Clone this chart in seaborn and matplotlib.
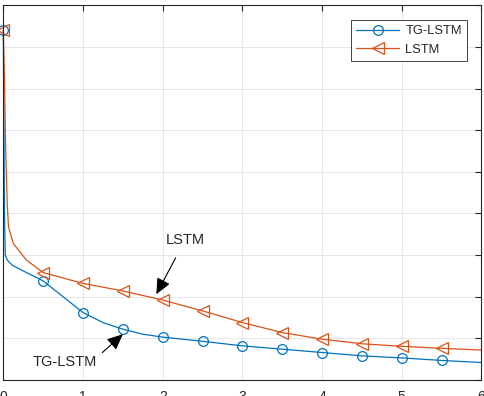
import matplotlib
matplotlib.use("Agg")
import matplotlib.pyplot as plt
import seaborn as sns

# values (y axis runs 0..9, labels cropped away)
tg_x = [0, 0.015, 0.025, 0.05, 0.11, 0.25, 0.5, 0.75, 1.0, 1.25, 1.5, 1.75,
        2.0, 2.5, 3.0, 3.5, 4.0, 4.5, 5.0, 5.5, 6.0]
tg_y = [8.4, 4.0, 3.0, 2.88, 2.76, 2.62, 2.38, 2.0, 1.62, 1.38, 1.22, 1.10,
        1.03, 0.93, 0.82, 0.74, 0.66, 0.58, 0.53, 0.47, 0.42]

lstm_x = [0, 0.015, 0.03, 0.05, 0.065, 0.125, 0.29, 0.5, 1.0, 1.5, 2.0, 2.5,
          3.0, 3.5, 4.0, 4.5, 5.0, 5.5, 6.0]
lstm_y = [8.4, 7.2, 5.5, 4.2, 3.68, 3.28, 2.88, 2.58, 2.32, 2.14, 1.92, 1.66,
          1.38, 1.14, 0.98, 0.87, 0.81, 0.76, 0.72]

x_ticks = [0, 1, 2, 3, 4, 5, 6]
y_ticks = [0, 1, 2, 3, 4, 5, 6, 7, 8, 9]

blue = "#0072BD"
orange = "#D95319"

sns.set_theme(style="whitegrid")
plt.rcParams["font.family"] = ["Liberation Sans", "DejaVu Sans"]

fig = plt.figure(figsize=(4.85, 3.96), dpi=100)
ax = fig.add_axes([3.3 / 485, 16 / 396, 478.2 / 485, 374.7 / 396])


def marks(xs):
    # a marker every 0.5 along x, none on the last point
    return [i for i, v in enumerate(xs) if v % 0.5 == 0 and v < 6]


sns.lineplot(x=tg_x, y=tg_y, ax=ax, sort=False, color=blue, lw=0.9,
             marker="o", markevery=marks(tg_x), markersize=7,
             markerfacecolor="none", markeredgecolor=blue, markeredgewidth=0.9,
             label="TG-LSTM", clip_on=False)
sns.lineplot(x=lstm_x, y=lstm_y, ax=ax, sort=False, color=orange, lw=0.9,
             marker="<", markevery=marks(lstm_x), markersize=8,
             markerfacecolor="none", markeredgecolor=orange, markeredgewidth=0.9,
             label="LSTM", clip_on=False)

ax.set_xlim(0, 6)
ax.set_ylim(0, 9)
ax.set_xticks(x_ticks)
ax.set_yticks(y_ticks)
ax.tick_params(direction="in", length=4, width=0.8, color="#262626",
               labelsize=10, pad=7, top=True, right=True,
               labelcolor="#262626")
ax.grid(True, color="#e3e3e3", lw=0.6)
for s in ax.spines.values():
    s.set_color("#262626")
    s.set_linewidth(0.8)
ax.set_facecolor("white")

head = "-|>,head_length=0.6,head_width=0.27"
ax.annotate("LSTM", xy=(1.92, 2.06), xytext=(2.28, 3.36),
            ha="center", va="center", fontsize=10.5, color="#262626",
            arrowprops=dict(arrowstyle=head, color="black", lw=0.8,
                            mutation_scale=16, shrinkA=6, shrinkB=0))
ax.annotate("TG-LSTM", xy=(1.50, 1.10), xytext=(0.77, 0.44),
            ha="center", va="center", fontsize=10.5, color="#262626",
            arrowprops=dict(arrowstyle=head, color="black", lw=0.8,
                            mutation_scale=16, shrinkA=2, shrinkB=0,
                            relpos=(1.0, 0.8)))

leg = ax.legend(loc="upper right", bbox_to_anchor=(0.970, 0.961),
                borderaxespad=0, fontsize=9.3, handlelength=3.3,
                fancybox=False, framealpha=1, edgecolor="#262626",
                borderpad=0.4, labelspacing=0.5, handletextpad=0.5)
leg.get_frame().set_linewidth(0.6)

fig.savefig("out.png", dpi=100)
